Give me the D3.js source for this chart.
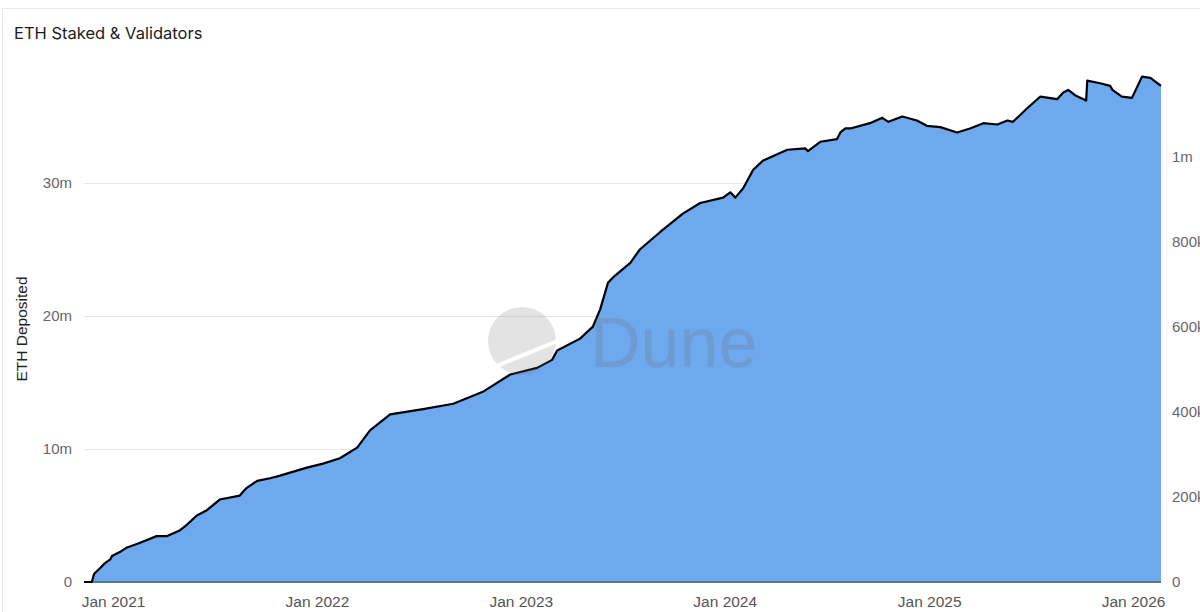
<!DOCTYPE html>
<html>
<head>
<meta charset="utf-8">
<script src="https://cdn.jsdelivr.net/npm/d3@7"></script>
<style>
  html, body { margin: 0; padding: 0; background: #fff; overflow: hidden; }
  svg { display: block; }
</style>
</head>
<body>
<div id="content"></div>
<script>
// dates and ETH deposited (millions)
var dates = [
  "2020-11-10", "2020-11-24", "2020-11-28", "2020-11-30", "2020-12-09",
  "2020-12-17", "2020-12-27", "2020-12-30", "2021-01-13", "2021-01-26",
  "2021-02-15", "2021-03-20", "2021-04-08", "2021-05-01", "2021-05-13",
  "2021-05-31", "2021-06-18", "2021-07-11", "2021-08-16", "2021-08-22",
  "2021-08-29", "2021-09-16", "2021-10-09", "2021-10-27", "2021-12-14",
  "2022-01-12", "2022-02-11", "2022-03-14", "2022-04-06", "2022-05-12",
  "2022-07-10", "2022-09-02", "2022-10-25",
  "2022-12-13", "2023-01-30", "2023-02-26", "2023-03-07", "2023-04-17",
  "2023-05-10", "2023-05-23", "2023-06-06", "2023-06-15", "2023-07-16",
  "2023-08-02", "2023-09-07", "2023-10-18", "2023-11-18", "2023-12-29",
  "2024-01-11", "2024-01-20", "2024-02-03", "2024-02-21", "2024-03-10",
  "2024-04-22", "2024-05-24", "2024-05-29", "2024-06-20", "2024-07-20",
  "2024-07-26", "2024-08-04", "2024-08-13", "2024-09-17", "2024-10-09",
  "2024-10-20", "2024-11-14", "2024-12-10", "2024-12-28", "2025-01-21",
  "2025-02-20", "2025-03-15", "2025-04-08", "2025-05-03", "2025-05-21",
  "2025-05-31", "2025-06-25", "2025-07-19", "2025-08-18", "2025-08-29",
  "2025-09-07", "2025-09-19", "2025-10-09", "2025-10-11", "2025-11-03",
  "2025-11-21", "2025-11-25", "2025-12-12", "2025-12-30", "2026-01-17",
  "2026-02-01", "2026-02-20"
];
var ethDepositedM = [
  0.0, 0.0, 0.6, 0.7, 1.05,
  1.4, 1.7, 1.95, 2.25, 2.6,
  2.9, 3.45, 3.45, 3.9, 4.3,
  5.0, 5.4, 6.2, 6.5, 6.8,
  7.1, 7.6, 7.8, 8.0, 8.6,
  8.9, 9.3, 10.1, 11.4, 12.6,
  13.0, 13.4, 14.3,
  15.6, 16.1, 16.7, 17.4, 18.3,
  19.2, 20.5, 22.5, 22.9, 24.0,
  25.0, 26.3, 27.7, 28.5, 28.9,
  29.3, 28.9, 29.6, 31.0, 31.7,
  32.5, 32.6, 32.4, 33.1, 33.3,
  33.8, 34.1, 34.1, 34.5, 34.9,
  34.6, 35.0, 34.7, 34.3, 34.2,
  33.8, 34.1, 34.5, 34.4, 34.7,
  34.6, 35.6, 36.5, 36.3, 36.8,
  37.0, 36.6, 36.2, 37.7, 37.5,
  37.3, 37.0, 36.5, 36.4, 38.0,
  37.9, 37.3
];
var leftTicks = [0, 10e6, 20e6, 30e6];
var rightTicks = [0, 200e3, 400e3, 600e3, 800e3, 1e6];
var xTickYears = [2021, 2022, 2023, 2024, 2025, 2026];

var width = 1200,
    height = 612;
var margin = { top: 50, right: 39, bottom: 30, left: 84 };
var plotW = width - margin.left - margin.right,
    plotH = height - margin.top - margin.bottom;

var parse = d3.timeParse("%Y-%m-%d");
var data = dates.map(function (d, i) { return { date: parse(d), value: ethDepositedM[i] * 1e6 }; });

var svg = d3.select("#content")
    .append("svg")
    .attr("width", width)
    .attr("height", height);

// card border
svg.append("path")
    .attr("d", "M2.5,612 L2.5,8.5 L1200,8.5")
    .attr("fill", "none")
    .attr("stroke", "#e9e9e9")
    .attr("stroke-width", 1);

svg.append("text")
    .attr("x", 14)
    .attr("y", 39)
    .attr("font-family", "Inter, 'Noto Sans', sans-serif")
    .attr("font-size", 16.5)
    .attr("fill", "#1c1c1c")
    .text("ETH Staked & Validators");

var g = svg.append("g")
    .attr("transform", "translate(" + margin.left + "," + margin.top + ")");

var x = d3.scaleTime()
    .domain(d3.extent(data, function (d) { return d.date; }))
    .range([0, plotW]);

var y = d3.scaleLinear().domain([0, 40e6]).range([plotH, 0]);
var y2 = d3.scaleLinear().domain([0, 1.25e6]).range([plotH, 0]);

// grid lines
g.selectAll(".grid")
    .data(leftTicks.filter(function (t) { return t > 0; }))
    .enter()
    .append("line")
    .attr("x1", 0)
    .attr("x2", plotW)
    .attr("y1", function (d) { return Math.round(y(d)) + 0.5; })
    .attr("y2", function (d) { return Math.round(y(d)) + 0.5; })
    .attr("stroke", "#e6e6e6");

var fmtLeft = function (d) { return d === 0 ? "0" : (d / 1e6) + "m"; };
var fmtRight = function (d) { return d === 0 ? "0" : d >= 1e6 ? (d / 1e6) + "m" : (d / 1e3) + "k"; };

var yAxis = g.append("g")
    .call(d3.axisLeft(y).tickValues(leftTicks).tickFormat(fmtLeft).tickSize(0).tickPadding(12));
yAxis.select(".domain").remove();
yAxis.selectAll("text")
    .attr("font-family", "'Liberation Sans', Arial, sans-serif")
    .attr("font-size", 15)
    .attr("fill", "#666");

var yAxis2 = g.append("g")
    .attr("transform", "translate(" + plotW + ",0)")
    .call(d3.axisRight(y2).tickValues(rightTicks).tickFormat(fmtRight).tickSize(0).tickPadding(11));
yAxis2.select(".domain").remove();
yAxis2.selectAll("text")
    .attr("font-family", "'Liberation Sans', Arial, sans-serif")
    .attr("font-size", 15)
    .attr("fill", "#666");

var xAxis = g.append("g")
    .attr("transform", "translate(0," + plotH + ")")
    .call(d3.axisBottom(x)
        .tickValues(xTickYears.map(function (yr) { return new Date(yr, 0, 1); }))
        .tickFormat(d3.timeFormat("Jan %Y"))
        .tickSize(0)
        .tickPadding(14));
xAxis.select(".domain").remove();
xAxis.selectAll("text")
    .attr("font-family", "'Liberation Sans', Arial, sans-serif")
    .attr("font-size", 15.5)
    .attr("fill", "#555");

svg.append("text")
    .attr("transform", "translate(27,329) rotate(-90)")
    .attr("text-anchor", "middle")
    .attr("font-family", "'Liberation Sans', Arial, sans-serif")
    .attr("font-size", 15.5)
    .attr("fill", "#222")
    .text("ETH Deposited");

// area
var area = d3.area()
    .x(function (d) { return x(d.date); })
    .y0(plotH)
    .y1(function (d) { return y(d.value); });

g.append("path")
    .datum(data)
    .attr("d", area)
    .attr("fill", "#6ea8ed");

// baseline
g.append("line")
    .attr("x1", 0).attr("x2", plotW)
    .attr("y1", plotH).attr("y2", plotH)
    .attr("stroke", "#5a7590")
    .attr("stroke-width", 2);

// watermark
var wm = svg.append("g").attr("opacity", 0.2);
wm.append("circle")
    .attr("cx", 522).attr("cy", 341).attr("r", 34)
    .attr("fill", "#7a7a7a");
wm.append("line")
    .attr("x1", 494).attr("y1", 367)
    .attr("x2", 560).attr("y2", 340)
    .attr("stroke", "#fff")
    .attr("stroke-width", 4);
wm.append("text")
    .attr("x", 590).attr("y", 367)
    .attr("font-family", "'Liberation Sans', Arial, sans-serif")
    .attr("font-size", 70)
    .attr("fill", "#6a6a6a")
    .text("Dune");

// line
var line = d3.line()
    .x(function (d) { return x(d.date); })
    .y(function (d) { return y(d.value); });

g.append("path")
    .datum(data)
    .attr("d", line)
    .attr("fill", "none")
    .attr("stroke", "#000")
    .attr("stroke-width", 2.2)
    .attr("stroke-linejoin", "round");
</script>
</body>
</html>
